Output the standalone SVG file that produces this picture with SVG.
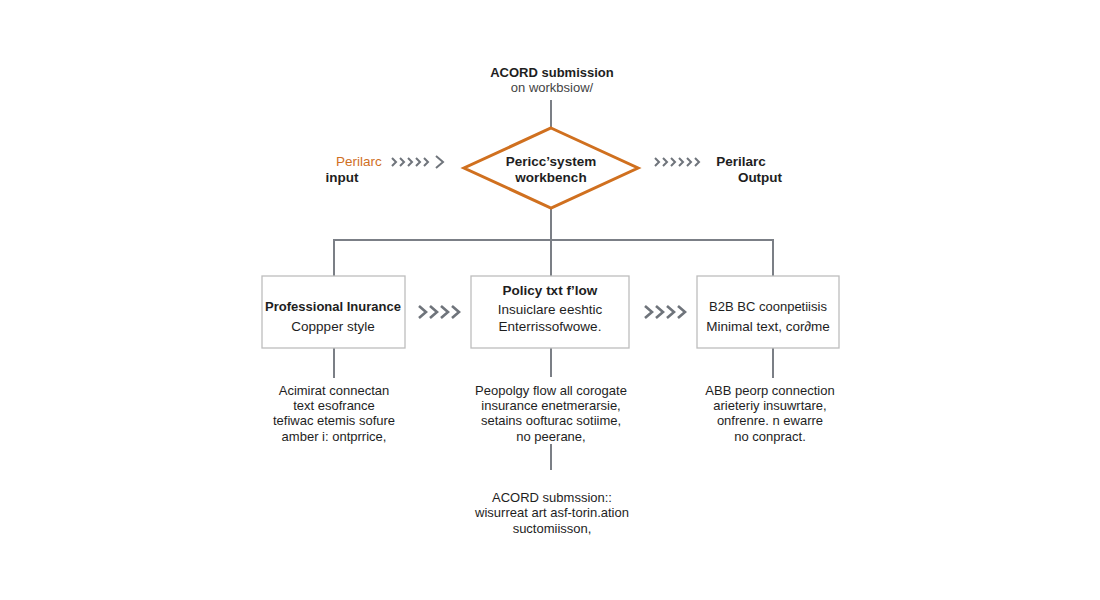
<svg xmlns="http://www.w3.org/2000/svg" width="1100" height="600" viewBox="0 0 1100 600">
<style>
text{font-family:"Liberation Sans",Arial,sans-serif;font-size:13px;fill:#1e1e1e;text-anchor:middle}
.t{font-weight:600}
.b{font-size:13.5px}
.l{fill:none;stroke:#7b7f86;stroke-width:2}
.box{fill:#fff;stroke:#bdbdbd;stroke-width:1.3}
.chev{fill:none;stroke:#6f747b;stroke-width:2.6;stroke-linejoin:miter}
.chs{fill:none;stroke:#6f747b;stroke-width:2}
</style>
<rect width="1100" height="600" fill="#fff"/>
<g id="connectors">
<path class="l" d="M551 100V128"/>
<path class="l" d="M551 208V240M334 276V240H773V276M551 240V276"/>
<path class="l" d="M334 348V378M551 348V377M773 348V378M551 444V470"/>
<g id="chev-in">
<path class="chs" d="M392 158l4 4-4 4M400 158l4 4-4 4M408 158l4 4-4 4M416 158l4 4-4 4M424 158l4 4-4 4M436 156l7 6-7 6"/>
</g>
<g id="chev-out">
<path class="chs" d="M655 158l4 4-4 4M663 158l4 4-4 4M671 158l4 4-4 4M679 158l4 4-4 4M687 158l4 4-4 4M695 158l4 4-4 4"/>
</g>
<g id="chev-1">
<path class="chev" d="M419 306l7 6-7 6M430 306l7 6-7 6M441 306l7 6-7 6M452 306l7 6-7 6"/>
</g>
<g id="chev-2">
<path class="chev" d="M645 306l7 6-7 6M656 306l7 6-7 6M667 306l7 6-7 6M678 306l7 6-7 6"/>
</g>
</g>
<g id="top-label">
<text class="t" x="552" y="77">ACORD submission</text>
<text x="552" y="92" style="fill:#444">on workbsiow/</text>
</g>
<g id="input">
<text class="b" x="359" y="166" style="fill:#d0701f">Perilarc</text>
<text class="t b" x="342" y="182">input</text>
</g>
<g id="output">
<text class="t b" x="741" y="166">Perilarc</text>
<text class="t b" x="760" y="182">Output</text>
</g>
<g id="decision">
<polygon points="551,128 638,168 551,208 464,168" fill="#fff" stroke="#d0701f" stroke-width="3" stroke-linejoin="miter"/>
<text class="t b" x="551" y="166">Pericc’system</text>
<text class="t b" x="551" y="182">workbench</text>
</g>
<g id="box1">
<rect class="box" x="262" y="276" width="143" height="72"/>
<text class="t" x="333" y="311">Professional Inurance</text>
<text class="b" x="333" y="331">Coppper style</text>
</g>
<g id="box2">
<rect class="box" x="471" y="276" width="158" height="72"/>
<text class="t b" x="550" y="295">Policy txt f’low</text>
<text class="b" x="550" y="314">Insuiclare eeshtic</text>
<text class="b" x="550" y="331">Enterrissofwowe.</text>
</g>
<g id="box3">
<rect class="box" x="697" y="276" width="142" height="72"/>
<text x="768" y="311">B2B BC coonpetiisis</text>
<text class="b" x="768" y="331">Minimal text, cor∂me</text>
</g>
<g id="note1">
<text x="334" y="395">Acimirat connectan</text>
<text x="334" y="410">text esofrance</text>
<text x="334" y="425">tefiwac etemis sofure</text>
<text x="334" y="441">amber i: ontprrice,</text>
</g>
<g id="note2">
<text x="551" y="395">Peopolgy flow all corogate</text>
<text x="551" y="410">insurance enetmerarsie,</text>
<text x="551" y="425">setains oofturac sotiime,</text>
<text x="551" y="441">no peerane,</text>
</g>
<g id="note3">
<text x="770" y="395">ABB peorp connection</text>
<text x="770" y="410">arieteriy insuwrtare,</text>
<text x="770" y="425">onfrenre. n ewarre</text>
<text x="770" y="441">no conpract.</text>
</g>
<g id="bottom-label">
<text x="552" y="502">ACORD submssion::</text>
<text x="552" y="517">wisurreat art asf-torin.ation</text>
<text x="552" y="533">suctomiisson,</text>
</g>
</svg>
